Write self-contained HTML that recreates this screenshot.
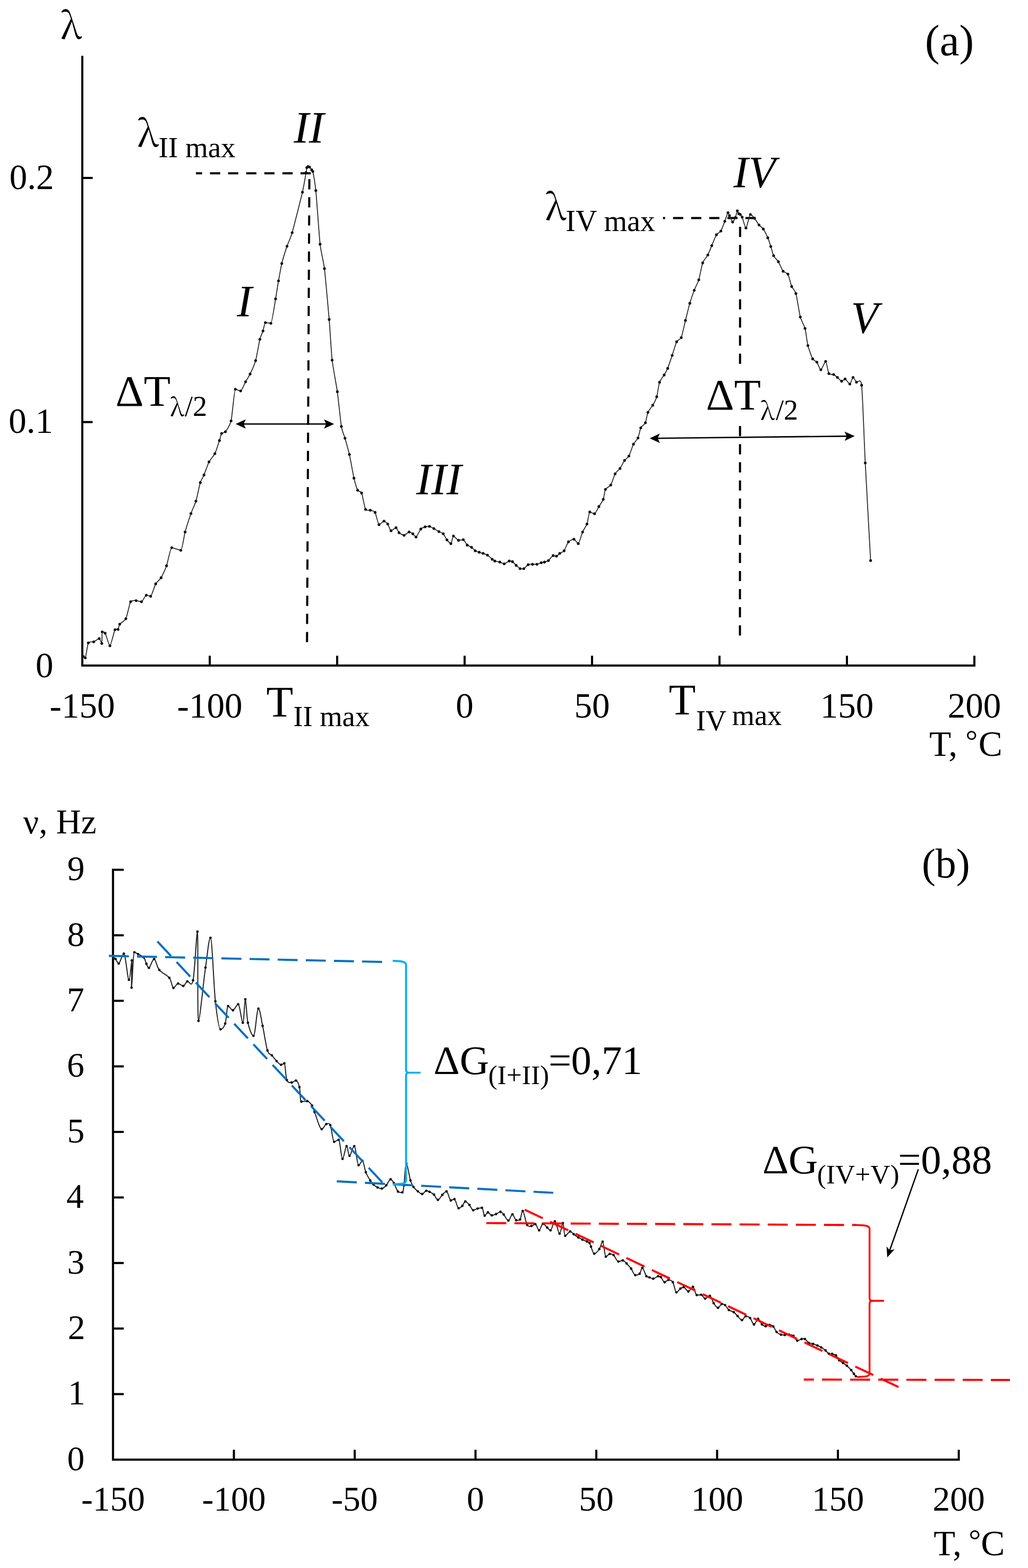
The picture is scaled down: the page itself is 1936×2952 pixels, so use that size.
<!DOCTYPE html>
<html><head><meta charset="utf-8"><title>Internal friction and frequency vs temperature</title>
<style>html,body{margin:0;padding:0;background:#fff}svg{display:block}text{font-family:"Liberation Serif",serif;fill:#000}</style>
</head><body>
<svg width="1936" height="2952" viewBox="0 0 1936 2952">
<rect width="1936" height="2952" fill="#fff"/>
<path d="M155 105 V1253 H1835 V1234.5" fill="none" stroke="#000" stroke-width="4.0" stroke-linejoin="miter"/>
<line x1="155" y1="794.6" x2="174.5" y2="794.6" stroke="#000" stroke-width="4.0" stroke-linecap="butt"/>
<line x1="155" y1="335" x2="174.5" y2="335" stroke="#000" stroke-width="4.0" stroke-linecap="butt"/>
<line x1="395" y1="1253" x2="395" y2="1234.5" stroke="#000" stroke-width="4.0" stroke-linecap="butt"/>
<line x1="635" y1="1253" x2="635" y2="1234.5" stroke="#000" stroke-width="4.0" stroke-linecap="butt"/>
<line x1="875" y1="1253" x2="875" y2="1234.5" stroke="#000" stroke-width="4.0" stroke-linecap="butt"/>
<line x1="1115" y1="1253" x2="1115" y2="1234.5" stroke="#000" stroke-width="4.0" stroke-linecap="butt"/>
<line x1="1355" y1="1253" x2="1355" y2="1234.5" stroke="#000" stroke-width="4.0" stroke-linecap="butt"/>
<line x1="1595" y1="1253" x2="1595" y2="1234.5" stroke="#000" stroke-width="4.0" stroke-linecap="butt"/>
<line x1="585.2" y1="326.3" x2="369" y2="326.3" stroke="#000" stroke-width="4.0" stroke-dasharray="19.2 14.9" stroke-linecap="butt"/>
<line x1="582.6" y1="337.2" x2="578.2" y2="1211.4" stroke="#000" stroke-width="4.0" stroke-dasharray="19.2 14.9" stroke-linecap="butt"/>
<line x1="1423.1" y1="410.5" x2="1248.5" y2="410.5" stroke="#000" stroke-width="4.0" stroke-dasharray="19.2 14.9" stroke-linecap="butt"/>
<line x1="1393.8" y1="427" x2="1393.5" y2="1197.6" stroke="#000" stroke-width="4.0" stroke-dasharray="19.2 14.9" stroke-linecap="butt"/>
<rect x="1325" y="688" width="180" height="113" fill="#fff"/>
<line x1="455" y1="798.2" x2="618" y2="798.2" stroke="#000" stroke-width="2.6" stroke-linecap="butt"/>
<path d="M443.8 798.2 L462.8 789.4 L458.8 798.2 L462.8 807 Z" fill="#000"/>
<path d="M629.2 798.2 L610.2 807 L614.2 798.2 L610.2 789.4 Z" fill="#000"/>
<line x1="1234" y1="825.2" x2="1599" y2="821.1" stroke="#000" stroke-width="2.6" stroke-linecap="butt"/>
<path d="M1223.6 825.3 L1242.5 816.3 L1238.6 825.1 L1242.7 833.9 Z" fill="#000"/>
<path d="M1609.6 821 L1590.7 830 L1594.6 821.2 L1590.5 812.4 Z" fill="#000"/>
<path d="M157 1236 C157.4 1236.2 159.8 1238.5 160.7 1238.5 C161.6 1238.5 164.7 1213.3 166.3 1210.3 C167.9 1207.3 174.4 1209.1 176.5 1208.3 C178.6 1207.5 185.3 1202.2 186.8 1202.2 C188.3 1202.2 191.1 1211.3 191.7 1211.3 C192.3 1211.3 191.9 1189.6 192.5 1189.6 C193.1 1189.6 196.6 1189.4 198 1192 C199.4 1194.6 205.2 1215.7 207 1215.7 C208.8 1215.7 215 1188.6 216.5 1185.5 C218 1182.4 221.4 1186 222.3 1185 C223.2 1184 224 1177 225.5 1175 C227 1173 234.9 1169 237 1164.8 C239.1 1160.6 244.1 1136.2 246 1132.8 C247.9 1129.4 254.2 1130.8 256.3 1130.8 C258.4 1130.8 264.6 1132.8 266.5 1132.8 C268.4 1132.8 273.8 1120.5 275.5 1120.5 C277.2 1120.5 281.9 1122.6 283.7 1122.6 C285.5 1122.6 291.2 1102.7 293.2 1099.2 C295.2 1095.7 301.3 1091.1 303.4 1087.7 C305.4 1084.3 311.7 1070.9 313.7 1065.2 C315.7 1059.5 320.8 1031 323.5 1031 C326.2 1031 338 1036 340.5 1036 C343 1036 346.7 1008.4 348.6 1001.5 C350.5 994.6 357.6 972.6 359.6 966.8 C361.6 961 367.2 949.2 369 943.4 C370.8 937.6 375.7 913.5 377.2 908.6 C378.7 903.7 382.6 898.1 384.2 894.2 C385.8 890.3 391.6 873.6 393.6 869.6 C395.7 865.6 402.7 858 404.7 854 C406.7 850 412 833.1 413.3 829.3 C414.6 825.5 416.3 817.6 417.4 816 C418.5 814.4 422.7 815.2 424.5 812.8 C426.3 810.4 433.3 800.3 435.2 792.3 C437.1 784.3 441.4 732.8 443.2 732.8 C445 732.8 451.3 736 453.2 736 C455.1 736 460.7 722 462.5 718.8 C464.3 715.6 469.1 708.2 471 704.2 C472.9 700.2 479.6 685.4 481.4 678.9 C483.2 672.4 488 644.4 489.4 638.8 C490.8 633.2 494.3 626.1 495.3 623 C496.3 619.9 498.3 607.3 499.8 607.3 C501.3 607.3 508.2 608.7 510.1 608.7 C512 608.7 517.6 570.7 519 562.7 C520.4 554.7 523.3 535.5 524.5 528.8 C525.7 522.1 529.1 502.5 530.7 496 C532.3 489.5 538.5 469.4 540.5 463.6 C542.5 457.8 547.3 448.2 550.2 438 C553.1 427.8 567 373.1 569.6 361.8 C572.2 350.5 575.6 329.4 576.4 324.8 C577.2 320.2 577.4 316.7 577.8 315.6 C578.1 314.5 579.4 313.6 579.9 313.6 C580.4 313.6 582.3 314 583 314.6 C583.7 315.2 586.4 318.9 587 319.7 C587.6 320.5 588.3 318.9 589.1 322.8 C589.9 326.7 593.4 345 594.8 358.7 C596.2 372.4 601.2 445 602.8 459.7 C604.4 474.4 609.3 491.5 611 505.7 C612.7 519.9 618.4 584.2 619.9 601.4 C621.4 618.6 624 664.4 625.5 678 C627 691.6 633.6 724.9 635.3 737.4 C637 749.9 641.5 794 642.9 802.8 C644.3 811.6 648.2 819.7 649.7 825 C651.2 830.3 656.3 848 658 855.5 C659.7 863 665 893.5 666.6 900.2 C668.2 906.9 672.2 920.1 673.6 922.9 C675 925.7 679.5 924.6 681 928.2 C682.5 931.8 686.8 955.8 688.4 959 C690 962.2 695.6 960 697.4 960.6 C699.2 961.2 704.8 962 706.4 964.7 C708 967.4 712.1 987.7 713.8 987.7 C715.5 987.7 721.6 981.1 723.2 981.1 C724.8 981.1 728.9 984.7 730.2 986.5 C731.5 988.3 734.8 999.2 736.4 999.2 C738 999.2 744.3 993.4 745.8 993.4 C747.3 993.4 750 1001.5 751.5 1002.9 C753 1004.3 759.1 1007.8 761 1007.8 C762.9 1007.8 768.8 1001.6 770.4 1001.6 C772 1001.6 776.1 1004 777.4 1004.9 C778.7 1005.8 782 1011 783.5 1011 C785 1011 790.8 997.8 792.5 995.9 C794.2 994 799.1 992.3 800.7 991.8 C802.3 991.3 807.3 991 808.9 991 C810.5 991 815.3 994.1 817.1 995.1 C818.9 996.1 824.8 999.8 826.6 1000.8 C828.4 1001.8 833.3 1003.3 834.8 1004.9 C836.3 1006.5 840.3 1014.5 841.7 1016.4 C843.1 1018.2 847.9 1023.4 849.1 1023.4 C850.3 1023.4 852.6 1009 854 1009 C855.4 1009 861.6 1017.2 863.5 1017.2 C865.4 1017.2 870.9 1016 872.5 1016 C874.1 1016 878.4 1024.8 879.9 1026.2 C881.4 1027.6 886.5 1029.2 888 1030.3 C889.5 1031.4 893.6 1036 895 1036.9 C896.4 1037.8 900.9 1039.2 902.4 1039.7 C903.9 1040.2 908.2 1041.3 909.8 1041.8 C911.4 1042.3 916.3 1044 918 1045.1 C919.7 1046.2 925.6 1051.8 927 1052.9 C928.4 1054 930.5 1055.7 931.9 1056.2 C933.3 1056.7 939.6 1057.7 941.4 1058.2 C943.2 1058.7 947.7 1061.5 949.5 1061.5 C951.3 1061.5 957.4 1056.2 959 1056.2 C960.6 1056.2 963.8 1056.6 965.1 1057.4 C966.4 1058.2 970.7 1063.1 972.1 1064.4 C973.5 1065.7 978.1 1069.9 979.5 1070.5 C980.9 1071.1 985 1071.2 986.5 1070.5 C988 1069.8 993.1 1063.9 994.7 1063.1 C996.3 1062.3 1001.3 1062.4 1002.9 1062.3 C1004.5 1062.2 1009.5 1062.6 1011.1 1062.3 C1012.7 1062 1017.9 1059.8 1019.3 1059.4 C1020.7 1059 1024.1 1058.6 1025.4 1058.2 C1026.8 1057.8 1031.2 1056.5 1032.8 1055.3 C1034.4 1054.1 1040.3 1045.9 1041.8 1045.9 C1043.3 1045.9 1046.8 1047.1 1048 1047.1 C1049.2 1047.1 1052.7 1042.8 1054.1 1041.8 C1055.5 1040.8 1060.7 1039.1 1062.3 1036.9 C1063.9 1034.7 1068.7 1022.3 1070.5 1020.1 C1072.3 1017.9 1079 1015.2 1080.8 1015.2 C1082.6 1015.2 1087.4 1023.4 1089 1023.4 C1090.6 1023.4 1095.6 1005.3 1097.2 1001.6 C1098.8 997.9 1104.1 990.3 1105.4 986.5 C1106.8 982.7 1109.3 963.9 1110.7 963.9 C1112.1 963.9 1118 967.2 1119.7 967.2 C1121.4 967.2 1126.3 956.4 1127.9 953.7 C1129.5 951 1134.9 943.3 1136.1 940.1 C1137.3 936.9 1138.8 924 1140.2 921.3 C1141.6 918.6 1148.5 915.9 1150.3 913 C1152.1 910.1 1156.7 895.2 1158.4 892.1 C1160.1 889 1165.8 884.5 1167.6 882 C1169.4 879.5 1174.5 869.1 1176.2 866.8 C1177.9 864.5 1182.7 861.7 1184.4 858.6 C1186.1 855.5 1191.3 839.6 1193 836.2 C1194.7 832.8 1200.1 827.6 1201.5 824.5 C1202.9 821.4 1205.4 808.3 1206.8 805.4 C1208.2 802.5 1214.2 798.7 1215.5 795.8 C1216.8 792.9 1218.8 779.6 1220.2 776.3 C1221.6 773 1227.6 765.8 1229.3 762.9 C1231 760 1235.5 751.2 1236.8 746.9 C1238.1 742.6 1240.7 723.8 1242.1 719.7 C1243.5 715.6 1249.3 708.5 1250.8 705.9 C1252.3 703.3 1256 697.1 1257.5 693.4 C1259 689.7 1264.2 674 1265.9 669 C1267.6 664 1272.6 646.8 1274.3 643.4 C1276 640 1281.3 639.5 1283 635.5 C1284.7 631.5 1289.3 609.7 1290.9 603.2 C1292.5 596.7 1297.4 576.6 1299.1 570.9 C1300.8 565.2 1305.7 550.9 1307.4 546.5 C1309.1 542.1 1314.4 532 1316 526.8 C1317.6 521.6 1321.6 499.6 1323.3 494.9 C1325 490.2 1331.3 483.3 1333 480 C1334.7 476.7 1338.9 466.1 1340.5 462.3 C1342.1 458.5 1347.5 444.6 1349.2 441.9 C1350.9 439.2 1356 437.5 1357.6 435 C1359.2 432.5 1363.7 420 1365 416.5 C1366.3 413 1370 400.3 1370.9 400.3 C1371.8 400.3 1372.8 404.1 1373.7 405.9 C1374.6 407.7 1378.6 417.9 1379.7 417.9 C1380.8 417.9 1384.1 411.6 1385 409.5 C1385.9 407.4 1388 396.8 1388.6 396.8 C1389.2 396.8 1390.8 401.7 1391.4 402.4 C1392 403.1 1393.6 403.2 1394.2 403.8 C1394.8 404.4 1396.6 406.3 1397.7 408.8 C1398.8 411.3 1403.2 429.2 1404.8 429.2 C1406.3 429.2 1411.6 403.8 1413.2 403.8 C1414.8 403.8 1419.4 408.9 1421 410.9 C1422.6 412.9 1427.8 421.6 1429.4 423.6 C1431.1 425.6 1435.8 428.8 1437.5 431.2 C1439.2 433.6 1444.6 444.4 1446 447.7 C1447.4 451 1450.5 460.6 1451.6 464 C1452.7 467.4 1455.5 478.4 1456.9 481.3 C1458.3 484.2 1464.1 489.8 1465.9 492.7 C1467.7 495.6 1473.1 508.4 1474.9 510.7 C1476.7 513 1482.3 513.2 1483.9 516.1 C1485.5 519 1489.5 535.8 1491 539.4 C1492.5 543 1497.3 546.9 1498.9 552.6 C1500.5 558.3 1505.5 590.2 1507.2 596.8 C1508.9 603.4 1514.7 612.9 1516.1 618.3 C1517.5 623.7 1520.1 644.9 1521.5 650.6 C1522.9 656.3 1528.8 672.6 1530.5 675.7 C1532.2 678.8 1536.9 679.8 1538.4 681.8 C1539.9 683.8 1544.2 696.1 1545.9 696.1 C1547.6 696.1 1553.4 680.4 1554.9 680.4 C1556.4 680.4 1559.5 700.8 1561 703.3 C1562.5 705.8 1568.4 704.4 1570 705.1 C1571.6 705.8 1575.6 709.2 1577.1 710.5 C1578.6 711.8 1583.6 717.7 1585 717.7 C1586.4 717.7 1590 713.4 1591.5 713.4 C1593 713.4 1598.9 723.1 1600.4 723.1 C1601.9 723.1 1605.2 710.5 1606.5 710.5 C1607.8 710.5 1611.4 718 1613 719.5 C1614.6 721 1621 710 1622.7 725.2 C1624.4 740.4 1627.8 838.5 1629.5 871.5 C1631.2 904.5 1638.6 1036.9 1639.6 1055.3" fill="none" stroke="#2a2a2a" stroke-width="1.75" stroke-linejoin="round"/>
<g fill="#111"><circle cx="157" cy="1236" r="2.6"/><circle cx="160.7" cy="1238.5" r="2.6"/><circle cx="166.3" cy="1210.3" r="2.6"/><circle cx="176.5" cy="1208.3" r="2.6"/><circle cx="186.8" cy="1202.2" r="2.6"/><circle cx="191.7" cy="1211.3" r="2.6"/><circle cx="192.5" cy="1189.6" r="2.6"/><circle cx="198" cy="1192" r="2.6"/><circle cx="207" cy="1215.7" r="2.6"/><circle cx="216.5" cy="1185.5" r="2.6"/><circle cx="222.3" cy="1185" r="2.6"/><circle cx="225.5" cy="1175" r="2.6"/><circle cx="237" cy="1164.8" r="2.6"/><circle cx="246" cy="1132.8" r="2.6"/><circle cx="256.3" cy="1130.8" r="2.6"/><circle cx="266.5" cy="1132.8" r="2.6"/><circle cx="275.5" cy="1120.5" r="2.6"/><circle cx="283.7" cy="1122.6" r="2.6"/><circle cx="293.2" cy="1099.2" r="2.6"/><circle cx="303.4" cy="1087.7" r="2.6"/><circle cx="313.7" cy="1065.2" r="2.6"/><circle cx="323.5" cy="1031" r="2.6"/><circle cx="340.5" cy="1036" r="2.6"/><circle cx="348.6" cy="1001.5" r="2.6"/><circle cx="359.6" cy="966.8" r="2.6"/><circle cx="369" cy="943.4" r="2.6"/><circle cx="377.2" cy="908.6" r="2.6"/><circle cx="384.2" cy="894.2" r="2.6"/><circle cx="393.6" cy="869.6" r="2.6"/><circle cx="404.7" cy="854" r="2.6"/><circle cx="413.3" cy="829.3" r="2.6"/><circle cx="417.4" cy="816" r="2.6"/><circle cx="424.5" cy="812.8" r="2.6"/><circle cx="435.2" cy="792.3" r="2.6"/><circle cx="443.2" cy="732.8" r="2.6"/><circle cx="453.2" cy="736" r="2.6"/><circle cx="462.5" cy="718.8" r="2.6"/><circle cx="471" cy="704.2" r="2.6"/><circle cx="481.4" cy="678.9" r="2.6"/><circle cx="489.4" cy="638.8" r="2.6"/><circle cx="495.3" cy="623" r="2.6"/><circle cx="499.8" cy="607.3" r="2.6"/><circle cx="510.1" cy="608.7" r="2.6"/><circle cx="519" cy="562.7" r="2.6"/><circle cx="524.5" cy="528.8" r="2.6"/><circle cx="530.7" cy="496" r="2.6"/><circle cx="540.5" cy="463.6" r="2.6"/><circle cx="550.2" cy="438" r="2.6"/><circle cx="569.6" cy="361.8" r="2.6"/><circle cx="576.4" cy="324.8" r="2.6"/><circle cx="577.8" cy="315.6" r="2.6"/><circle cx="579.9" cy="313.6" r="2.6"/><circle cx="583" cy="314.6" r="2.6"/><circle cx="587" cy="319.7" r="2.6"/><circle cx="589.1" cy="322.8" r="2.6"/><circle cx="594.8" cy="358.7" r="2.6"/><circle cx="602.8" cy="459.7" r="2.6"/><circle cx="611" cy="505.7" r="2.6"/><circle cx="619.9" cy="601.4" r="2.6"/><circle cx="625.5" cy="678" r="2.6"/><circle cx="635.3" cy="737.4" r="2.6"/><circle cx="642.9" cy="802.8" r="2.6"/><circle cx="649.7" cy="825" r="2.6"/><circle cx="658" cy="855.5" r="2.6"/><circle cx="666.6" cy="900.2" r="2.6"/><circle cx="673.6" cy="922.9" r="2.6"/><circle cx="681" cy="928.2" r="2.6"/><circle cx="688.4" cy="959" r="2.6"/><circle cx="697.4" cy="960.6" r="2.6"/><circle cx="706.4" cy="964.7" r="2.6"/><circle cx="713.8" cy="987.7" r="2.6"/><circle cx="723.2" cy="981.1" r="2.6"/><circle cx="730.2" cy="986.5" r="2.6"/><circle cx="736.4" cy="999.2" r="2.6"/><circle cx="745.8" cy="993.4" r="2.6"/><circle cx="751.5" cy="1002.9" r="2.6"/><circle cx="761" cy="1007.8" r="2.6"/><circle cx="770.4" cy="1001.6" r="2.6"/><circle cx="777.4" cy="1004.9" r="2.6"/><circle cx="783.5" cy="1011" r="2.6"/><circle cx="792.5" cy="995.9" r="2.6"/><circle cx="800.7" cy="991.8" r="2.6"/><circle cx="808.9" cy="991" r="2.6"/><circle cx="817.1" cy="995.1" r="2.6"/><circle cx="826.6" cy="1000.8" r="2.6"/><circle cx="834.8" cy="1004.9" r="2.6"/><circle cx="841.7" cy="1016.4" r="2.6"/><circle cx="849.1" cy="1023.4" r="2.6"/><circle cx="854" cy="1009" r="2.6"/><circle cx="863.5" cy="1017.2" r="2.6"/><circle cx="872.5" cy="1016" r="2.6"/><circle cx="879.9" cy="1026.2" r="2.6"/><circle cx="888" cy="1030.3" r="2.6"/><circle cx="895" cy="1036.9" r="2.6"/><circle cx="902.4" cy="1039.7" r="2.6"/><circle cx="909.8" cy="1041.8" r="2.6"/><circle cx="918" cy="1045.1" r="2.6"/><circle cx="927" cy="1052.9" r="2.6"/><circle cx="931.9" cy="1056.2" r="2.6"/><circle cx="941.4" cy="1058.2" r="2.6"/><circle cx="949.5" cy="1061.5" r="2.6"/><circle cx="959" cy="1056.2" r="2.6"/><circle cx="965.1" cy="1057.4" r="2.6"/><circle cx="972.1" cy="1064.4" r="2.6"/><circle cx="979.5" cy="1070.5" r="2.6"/><circle cx="986.5" cy="1070.5" r="2.6"/><circle cx="994.7" cy="1063.1" r="2.6"/><circle cx="1002.9" cy="1062.3" r="2.6"/><circle cx="1011.1" cy="1062.3" r="2.6"/><circle cx="1019.3" cy="1059.4" r="2.6"/><circle cx="1025.4" cy="1058.2" r="2.6"/><circle cx="1032.8" cy="1055.3" r="2.6"/><circle cx="1041.8" cy="1045.9" r="2.6"/><circle cx="1048" cy="1047.1" r="2.6"/><circle cx="1054.1" cy="1041.8" r="2.6"/><circle cx="1062.3" cy="1036.9" r="2.6"/><circle cx="1070.5" cy="1020.1" r="2.6"/><circle cx="1080.8" cy="1015.2" r="2.6"/><circle cx="1089" cy="1023.4" r="2.6"/><circle cx="1097.2" cy="1001.6" r="2.6"/><circle cx="1105.4" cy="986.5" r="2.6"/><circle cx="1110.7" cy="963.9" r="2.6"/><circle cx="1119.7" cy="967.2" r="2.6"/><circle cx="1127.9" cy="953.7" r="2.6"/><circle cx="1136.1" cy="940.1" r="2.6"/><circle cx="1140.2" cy="921.3" r="2.6"/><circle cx="1150.3" cy="913" r="2.6"/><circle cx="1158.4" cy="892.1" r="2.6"/><circle cx="1167.6" cy="882" r="2.6"/><circle cx="1176.2" cy="866.8" r="2.6"/><circle cx="1184.4" cy="858.6" r="2.6"/><circle cx="1193" cy="836.2" r="2.6"/><circle cx="1201.5" cy="824.5" r="2.6"/><circle cx="1206.8" cy="805.4" r="2.6"/><circle cx="1215.5" cy="795.8" r="2.6"/><circle cx="1220.2" cy="776.3" r="2.6"/><circle cx="1229.3" cy="762.9" r="2.6"/><circle cx="1236.8" cy="746.9" r="2.6"/><circle cx="1242.1" cy="719.7" r="2.6"/><circle cx="1250.8" cy="705.9" r="2.6"/><circle cx="1257.5" cy="693.4" r="2.6"/><circle cx="1265.9" cy="669" r="2.6"/><circle cx="1274.3" cy="643.4" r="2.6"/><circle cx="1283" cy="635.5" r="2.6"/><circle cx="1290.9" cy="603.2" r="2.6"/><circle cx="1299.1" cy="570.9" r="2.6"/><circle cx="1307.4" cy="546.5" r="2.6"/><circle cx="1316" cy="526.8" r="2.6"/><circle cx="1323.3" cy="494.9" r="2.6"/><circle cx="1333" cy="480" r="2.6"/><circle cx="1340.5" cy="462.3" r="2.6"/><circle cx="1349.2" cy="441.9" r="2.6"/><circle cx="1357.6" cy="435" r="2.6"/><circle cx="1365" cy="416.5" r="2.6"/><circle cx="1370.9" cy="400.3" r="2.6"/><circle cx="1373.7" cy="405.9" r="2.6"/><circle cx="1379.7" cy="417.9" r="2.6"/><circle cx="1385" cy="409.5" r="2.6"/><circle cx="1388.6" cy="396.8" r="2.6"/><circle cx="1391.4" cy="402.4" r="2.6"/><circle cx="1394.2" cy="403.8" r="2.6"/><circle cx="1397.7" cy="408.8" r="2.6"/><circle cx="1404.8" cy="429.2" r="2.6"/><circle cx="1413.2" cy="403.8" r="2.6"/><circle cx="1421" cy="410.9" r="2.6"/><circle cx="1429.4" cy="423.6" r="2.6"/><circle cx="1437.5" cy="431.2" r="2.6"/><circle cx="1446" cy="447.7" r="2.6"/><circle cx="1451.6" cy="464" r="2.6"/><circle cx="1456.9" cy="481.3" r="2.6"/><circle cx="1465.9" cy="492.7" r="2.6"/><circle cx="1474.9" cy="510.7" r="2.6"/><circle cx="1483.9" cy="516.1" r="2.6"/><circle cx="1491" cy="539.4" r="2.6"/><circle cx="1498.9" cy="552.6" r="2.6"/><circle cx="1507.2" cy="596.8" r="2.6"/><circle cx="1516.1" cy="618.3" r="2.6"/><circle cx="1521.5" cy="650.6" r="2.6"/><circle cx="1530.5" cy="675.7" r="2.6"/><circle cx="1538.4" cy="681.8" r="2.6"/><circle cx="1545.9" cy="696.1" r="2.6"/><circle cx="1554.9" cy="680.4" r="2.6"/><circle cx="1561" cy="703.3" r="2.6"/><circle cx="1570" cy="705.1" r="2.6"/><circle cx="1577.1" cy="710.5" r="2.6"/><circle cx="1585" cy="717.7" r="2.6"/><circle cx="1591.5" cy="713.4" r="2.6"/><circle cx="1600.4" cy="723.1" r="2.6"/><circle cx="1606.5" cy="710.5" r="2.6"/><circle cx="1613" cy="719.5" r="2.6"/><circle cx="1622.7" cy="725.2" r="2.6"/><circle cx="1629.5" cy="871.5" r="2.6"/><circle cx="1639.6" cy="1055.3" r="2.6"/></g>
<path d="M233 1637.4 H212.8 V2748 H1805.6 V2729.4" fill="none" stroke="#000" stroke-width="4.0"/>
<line x1="212.8" y1="2624.6" x2="233" y2="2624.6" stroke="#000" stroke-width="4.0" stroke-linecap="butt"/>
<line x1="212.8" y1="2501.2" x2="233" y2="2501.2" stroke="#000" stroke-width="4.0" stroke-linecap="butt"/>
<line x1="212.8" y1="2377.8" x2="233" y2="2377.8" stroke="#000" stroke-width="4.0" stroke-linecap="butt"/>
<line x1="212.8" y1="2254.4" x2="233" y2="2254.4" stroke="#000" stroke-width="4.0" stroke-linecap="butt"/>
<line x1="212.8" y1="2131" x2="233" y2="2131" stroke="#000" stroke-width="4.0" stroke-linecap="butt"/>
<line x1="212.8" y1="2007.6" x2="233" y2="2007.6" stroke="#000" stroke-width="4.0" stroke-linecap="butt"/>
<line x1="212.8" y1="1884.2" x2="233" y2="1884.2" stroke="#000" stroke-width="4.0" stroke-linecap="butt"/>
<line x1="212.8" y1="1760.8" x2="233" y2="1760.8" stroke="#000" stroke-width="4.0" stroke-linecap="butt"/>
<line x1="440.5" y1="2748" x2="440.5" y2="2729.4" stroke="#000" stroke-width="4.0" stroke-linecap="butt"/>
<line x1="668" y1="2748" x2="668" y2="2729.4" stroke="#000" stroke-width="4.0" stroke-linecap="butt"/>
<line x1="895.5" y1="2748" x2="895.5" y2="2729.4" stroke="#000" stroke-width="4.0" stroke-linecap="butt"/>
<line x1="1123" y1="2748" x2="1123" y2="2729.4" stroke="#000" stroke-width="4.0" stroke-linecap="butt"/>
<line x1="1350.5" y1="2748" x2="1350.5" y2="2729.4" stroke="#000" stroke-width="4.0" stroke-linecap="butt"/>
<line x1="1578" y1="2748" x2="1578" y2="2729.4" stroke="#000" stroke-width="4.0" stroke-linecap="butt"/>
<path d="M214.6 1804.3 C215.1 1804.5 216.3 1804 217.8 1805.6 C219.3 1807.2 221 1814 223.6 1814 C226.2 1814 230 1795.4 233.2 1795.4 C236.4 1795.4 240.3 1844.7 242.8 1844.7 C245.3 1844.7 247.4 1808.2 248.2 1808.2 C249 1808.2 247 1859.4 247.8 1859.4 C248.6 1859.4 250.9 1792.8 253 1792.8 C255.1 1792.8 257.2 1794.7 260.1 1796.3 C263.1 1797.9 268.1 1799.5 270.7 1802.5 C273.3 1805.5 274.1 1811.1 275.7 1814.4 C277.3 1817.7 278 1822.2 280.4 1822.2 C282.8 1822.2 286.9 1805.6 290.2 1805.6 C293.5 1805.6 295.2 1820.2 300 1826.1 C304.8 1832 314.4 1835.3 318.9 1840.9 C323.3 1846.5 324 1859.9 326.7 1859.9 C329.4 1859.9 332.2 1851.7 335.3 1851.7 C338.4 1851.7 342.2 1856.2 345.1 1856.2 C348 1856.2 349.6 1849.4 352.7 1847.6 C355.8 1845.8 360.4 1861.2 363.6 1845.6 C366.8 1830 370.1 1753.9 371.8 1753.9 C373.5 1753.9 371.3 1922 373.8 1922 C376.3 1922 383.2 1847.7 387 1821.6 C390.8 1795.5 393.3 1765.6 396.4 1765.6 C399.5 1765.6 402.5 1856.4 405.6 1885.1 C408.8 1913.8 412.2 1937.8 415.3 1937.8 C418.4 1937.8 421.7 1934.3 424.1 1927 C426.5 1919.7 427.2 1894.2 429.6 1894.2 C432.1 1894.2 435.7 1902 438.8 1902 C441.9 1902 445.4 1890.7 448.5 1890.7 C451.6 1890.7 455.1 1925.5 457.3 1925.5 C459.6 1925.5 460.4 1881.5 462 1881.5 C463.6 1881.5 464.3 1914.1 466.9 1925.5 C469.5 1936.9 474.1 1950.1 477.4 1950.1 C480.7 1950.1 483.7 1898.9 486.6 1898.9 C489.5 1898.9 491.8 1918.2 494.6 1931.3 C497.5 1944.4 500.8 1968.5 503.7 1977.7 C506.6 1987 509.1 1983.5 512 1986.8 C514.9 1990.1 518.1 1994.8 521 1997.8 C523.9 2000.8 526.9 2004.7 529.3 2004.7 C531.7 2004.7 533.7 2001.9 535.5 2001.9 C537.3 2001.9 537.9 2027.4 540.2 2033.4 C542.5 2039.4 546.4 2038 549.3 2038 C552.1 2038 554.9 2034.3 557.3 2034.3 C559.7 2034.3 562.2 2040.1 563.9 2046.7 C565.6 2053.3 565.1 2074 567.5 2074 C569.9 2074 575.1 2073 578.5 2073 C581.9 2073 585.4 2077.9 587.7 2081.3 C590 2084.7 589.3 2085.9 592.3 2093.3 C595.3 2100.7 602.1 2125.8 605.8 2125.8 C609.5 2125.8 611.8 2116.2 614.5 2116.2 C617.2 2116.2 619.5 2112.6 622 2118.2 C624.5 2123.8 626.7 2149.7 629.3 2149.7 C631.9 2149.7 635.1 2145.8 637.7 2145.8 C640.3 2145.8 642.6 2181.8 645.1 2181.8 C647.6 2181.8 650.5 2157.8 652.7 2157.8 C654.9 2157.8 655.9 2175.9 658.3 2175.9 C660.7 2175.9 664.3 2157.8 667.1 2157.8 C669.9 2157.8 672.7 2193.7 675.3 2193.7 C677.9 2193.7 680.2 2185.5 682.5 2185.5 C684.8 2185.5 686.5 2200.8 689 2207 C691.5 2213.2 694.8 2218.6 697.2 2222.4 C699.6 2226.2 701 2227.8 703.3 2230 C705.6 2232.2 708.4 2234.3 711 2235.6 C713.6 2236.9 716.5 2237.7 719.2 2237.7 C721.9 2237.7 724.7 2234.4 727.4 2231.5 C730.1 2228.6 733.2 2220.2 735.6 2220.2 C738 2220.2 739.5 2223.6 741.8 2227.4 C744.1 2231.2 746.9 2240.4 749.5 2243.3 C752.1 2246.2 755.8 2244.8 757.7 2244.8 C759.6 2244.8 759.4 2240.6 760.7 2231.5 C762 2222.4 763.2 2190.5 765.3 2190.5 C767.3 2190.5 770.8 2215 773 2222.3 C775.2 2229.7 776.4 2231.2 778.7 2234.6 C781 2238 784.2 2240.6 786.9 2242.8 C789.6 2245 792.5 2247.9 795.1 2247.9 C797.8 2247.9 800.5 2241.8 802.8 2241.8 C805.1 2241.8 806.5 2242.6 808.9 2243.8 C811.3 2245 814.6 2246.5 817.2 2249 C819.8 2251.5 822.1 2259 824.7 2259 C827.3 2259 830.3 2252.2 833 2249.5 C835.7 2246.8 838.3 2243 841 2243 C843.7 2243 846.5 2260 849 2260 C851.5 2260 853.4 2257.5 855.8 2257.5 C858.2 2257.5 861.1 2274.7 863.6 2274.7 C866.1 2274.7 868.6 2272.3 870.7 2270.2 C872.8 2268.1 874.1 2262 876.3 2262 C878.5 2262 881.6 2265.9 884.1 2268.6 C886.6 2271.3 888.7 2278.4 891.2 2278.4 C893.8 2278.4 896.7 2276.1 899.4 2275.3 C902.1 2274.6 905.4 2273.9 907.6 2273.9 C909.8 2273.9 910.9 2288.7 912.8 2288.7 C914.7 2288.7 916.7 2282.5 918.9 2282.5 C921.1 2282.5 923.5 2288.2 926.1 2288.2 C928.7 2288.2 931.6 2286.7 934.3 2285.6 C937 2284.5 940.1 2281.5 942.5 2281.5 C944.9 2281.5 946.1 2283.9 948.6 2286.6 C951.1 2289.3 954.7 2297.9 957.4 2297.9 C960.1 2297.9 962.5 2286.2 965 2286.2 C967.5 2286.2 969.8 2297.3 972.2 2297.3 C974.6 2297.3 977.4 2298.7 979.4 2295.8 C981.4 2292.9 982.3 2280 984.5 2280 C986.7 2280 990 2301.4 992.7 2306.1 C995.4 2310.8 998.3 2308.1 1000.9 2308.1 C1003.5 2308.1 1005.7 2304.6 1008.1 2304.6 C1010.5 2304.6 1012.9 2316.3 1015.3 2316.3 C1017.7 2316.3 1019.9 2304 1022.4 2304 C1025 2304 1028.2 2309.1 1030.6 2311.2 C1033 2313.2 1034.4 2316.3 1036.8 2316.3 C1039.2 2316.3 1042.2 2299.3 1045 2299.3 C1047.8 2299.3 1051.3 2322.5 1053.8 2322.5 C1056.3 2322.5 1058.2 2302.6 1060 2302.6 C1061.8 2302.6 1062.2 2326.6 1064.5 2326.6 C1066.8 2326.6 1071 2318.4 1073.7 2318.4 C1076.4 2318.4 1077.8 2321.6 1080.4 2323.5 C1083 2325.4 1086.4 2328 1089.1 2329.7 C1091.8 2331.4 1094.1 2332.5 1096.8 2333.8 C1099.5 2335.1 1103.2 2336.3 1105.5 2337.4 C1107.8 2338.5 1109 2338.6 1110.3 2340.2 C1111.5 2341.8 1111.5 2343.7 1113 2347 C1114.5 2350.3 1116.6 2360.3 1119.2 2360.3 C1121.8 2360.3 1126.1 2355.3 1128.7 2351.5 C1131.3 2347.7 1132.9 2337.7 1134.9 2337.7 C1137 2337.7 1138.8 2365.8 1141 2365.8 C1143.2 2365.8 1145.8 2360.7 1148.2 2360.7 C1150.6 2360.7 1152.7 2360.4 1155.4 2362.8 C1158.1 2365.2 1161.7 2375.1 1164.6 2375.1 C1167.5 2375.1 1170.2 2373 1172.8 2373 C1175.4 2373 1177.4 2376.1 1180 2378.7 C1182.6 2381.3 1185.9 2384.7 1188.6 2388.4 C1191.3 2392.1 1193.7 2400.7 1196.4 2400.7 C1199.1 2400.7 1202.4 2400.3 1204.6 2398 C1206.8 2395.7 1207.6 2386.9 1209.7 2386.9 C1211.8 2386.9 1215.1 2399.7 1217.3 2402.7 C1219.5 2405.7 1220.8 2404 1223 2404.8 C1225.2 2405.6 1227.5 2407.4 1230.2 2407.4 C1232.9 2407.4 1237 2402.7 1239.4 2402.7 C1241.8 2402.7 1242.5 2402.3 1244.5 2404.2 C1246.5 2406.1 1249.3 2414 1251.7 2414 C1254.1 2414 1256.3 2409.5 1258.9 2409.5 C1261.5 2409.5 1264.6 2410.1 1267.1 2414 C1269.6 2417.9 1271.4 2433.1 1273.8 2433.1 C1276.2 2433.1 1279.1 2427.6 1281.4 2425.9 C1283.7 2424.2 1285.1 2423.2 1287.6 2423.2 C1290.1 2423.2 1293.5 2431.4 1296.4 2431.4 C1299.3 2431.4 1302.4 2422.6 1305 2422.6 C1307.6 2422.6 1309.6 2438.2 1312.2 2438.2 C1314.8 2438.2 1317.8 2437.6 1320.4 2437.6 C1323 2437.6 1325.3 2444.8 1328 2444.8 C1330.7 2444.8 1334.1 2439.6 1336.8 2439.6 C1339.5 2439.6 1341.4 2449.6 1344 2453.4 C1346.6 2457.2 1349.7 2462.2 1352.2 2462.2 C1354.8 2462.2 1357.1 2455 1359.3 2455 C1361.5 2455 1363.3 2455.2 1365.5 2457.1 C1367.7 2459 1370 2464.1 1372.7 2466.3 C1375.4 2468.5 1379.2 2468.5 1381.9 2470.4 C1384.6 2472.3 1386.5 2475.1 1389.1 2477.6 C1391.7 2480.1 1394.8 2485.3 1397.3 2485.3 C1399.8 2485.3 1401.8 2478 1404.3 2478 C1406.8 2478 1409.9 2478.7 1412.5 2481.3 C1415.1 2483.9 1417.5 2493.5 1420 2493.5 C1422.5 2493.5 1425.2 2483 1427.7 2483 C1430.2 2483 1432.5 2491 1434.9 2493.3 C1437.3 2495.6 1439.6 2496.9 1442 2496.9 C1444.4 2496.9 1446.8 2494.3 1449.2 2494.3 C1451.6 2494.3 1454.2 2495.2 1456.4 2497.4 C1458.6 2499.6 1460.1 2505.1 1462.5 2507.6 C1464.9 2510.1 1468.1 2511.8 1470.7 2512.7 C1473.3 2513.6 1475.3 2513.3 1477.9 2513.3 C1480.5 2513.3 1483.4 2512.7 1486.1 2512.7 C1488.8 2512.7 1491.7 2512.9 1494.3 2514.8 C1496.9 2516.7 1498.9 2524 1501.5 2524 C1504.1 2524 1507.3 2521.4 1509.7 2520.9 C1512.1 2520.4 1513.6 2519.7 1515.8 2520.9 C1518 2522.1 1520.4 2526.6 1523 2528.1 C1525.6 2529.6 1528.5 2529.3 1531.2 2530.2 C1533.9 2531 1536.8 2532.1 1539.4 2533.2 C1542 2534.3 1544 2535.1 1546.6 2536.7 C1549.2 2538.2 1552.4 2540.5 1554.8 2542.5 C1557.2 2544.5 1558.9 2547.5 1560.9 2548.6 C1563 2549.7 1564.9 2548.5 1567.1 2549 C1569.3 2549.5 1572.1 2549.7 1574.3 2551.7 C1576.5 2553.7 1578.2 2558.5 1580.4 2560.9 C1582.6 2563.3 1585.2 2564.3 1587.6 2566 C1590 2567.7 1592.2 2569 1594.8 2571.2 C1597.4 2573.4 1600.8 2576.8 1603 2579.4 C1605.2 2582 1606.6 2584.5 1608.1 2586.5 C1609.6 2588.5 1611.2 2590.4 1611.8 2591.2" fill="none" stroke="#222" stroke-width="2" stroke-linejoin="round"/>
<g fill="#111"><circle cx="214.6" cy="1804.3" r="2.4"/><circle cx="217.8" cy="1805.6" r="2.4"/><circle cx="223.6" cy="1814" r="2.4"/><circle cx="233.2" cy="1795.4" r="2.4"/><circle cx="242.8" cy="1844.7" r="2.4"/><circle cx="248.2" cy="1808.2" r="2.4"/><circle cx="247.8" cy="1859.4" r="2.4"/><circle cx="253" cy="1792.8" r="2.4"/><circle cx="260.1" cy="1796.3" r="2.4"/><circle cx="270.7" cy="1802.5" r="2.4"/><circle cx="275.7" cy="1814.4" r="2.4"/><circle cx="280.4" cy="1822.2" r="2.4"/><circle cx="290.2" cy="1805.6" r="2.4"/><circle cx="300" cy="1826.1" r="2.4"/><circle cx="318.9" cy="1840.9" r="2.4"/><circle cx="326.7" cy="1859.9" r="2.4"/><circle cx="335.3" cy="1851.7" r="2.4"/><circle cx="345.1" cy="1856.2" r="2.4"/><circle cx="352.7" cy="1847.6" r="2.4"/><circle cx="363.6" cy="1845.6" r="2.4"/><circle cx="371.8" cy="1753.9" r="2.4"/><circle cx="373.8" cy="1922" r="2.4"/><circle cx="387" cy="1821.6" r="2.4"/><circle cx="396.4" cy="1765.6" r="2.4"/><circle cx="405.6" cy="1885.1" r="2.4"/><circle cx="415.3" cy="1937.8" r="2.4"/><circle cx="424.1" cy="1927" r="2.4"/><circle cx="429.6" cy="1894.2" r="2.4"/><circle cx="438.8" cy="1902" r="2.4"/><circle cx="448.5" cy="1890.7" r="2.4"/><circle cx="457.3" cy="1925.5" r="2.4"/><circle cx="462" cy="1881.5" r="2.4"/><circle cx="466.9" cy="1925.5" r="2.4"/><circle cx="477.4" cy="1950.1" r="2.4"/><circle cx="486.6" cy="1898.9" r="2.4"/><circle cx="494.6" cy="1931.3" r="2.4"/><circle cx="503.7" cy="1977.7" r="2.4"/><circle cx="512" cy="1986.8" r="2.4"/><circle cx="521" cy="1997.8" r="2.4"/><circle cx="529.3" cy="2004.7" r="2.4"/><circle cx="535.5" cy="2001.9" r="2.4"/><circle cx="540.2" cy="2033.4" r="2.4"/><circle cx="549.3" cy="2038" r="2.4"/><circle cx="557.3" cy="2034.3" r="2.4"/><circle cx="563.9" cy="2046.7" r="2.4"/><circle cx="567.5" cy="2074" r="2.4"/><circle cx="578.5" cy="2073" r="2.4"/><circle cx="587.7" cy="2081.3" r="2.4"/><circle cx="592.3" cy="2093.3" r="2.4"/><circle cx="605.8" cy="2125.8" r="2.4"/><circle cx="614.5" cy="2116.2" r="2.4"/><circle cx="622" cy="2118.2" r="2.4"/><circle cx="629.3" cy="2149.7" r="2.4"/><circle cx="637.7" cy="2145.8" r="2.4"/><circle cx="645.1" cy="2181.8" r="2.4"/><circle cx="652.7" cy="2157.8" r="2.4"/><circle cx="658.3" cy="2175.9" r="2.4"/><circle cx="667.1" cy="2157.8" r="2.4"/><circle cx="675.3" cy="2193.7" r="2.4"/><circle cx="682.5" cy="2185.5" r="2.4"/><circle cx="689" cy="2207" r="2.4"/><circle cx="697.2" cy="2222.4" r="2.4"/><circle cx="703.3" cy="2230" r="2.4"/><circle cx="711" cy="2235.6" r="2.4"/><circle cx="719.2" cy="2237.7" r="2.4"/><circle cx="727.4" cy="2231.5" r="2.4"/><circle cx="735.6" cy="2220.2" r="2.4"/><circle cx="741.8" cy="2227.4" r="2.4"/><circle cx="749.5" cy="2243.3" r="2.4"/><circle cx="757.7" cy="2244.8" r="2.4"/><circle cx="760.7" cy="2231.5" r="2.4"/><circle cx="765.3" cy="2190.5" r="2.4"/><circle cx="773" cy="2222.3" r="2.4"/><circle cx="778.7" cy="2234.6" r="2.4"/><circle cx="786.9" cy="2242.8" r="2.4"/><circle cx="795.1" cy="2247.9" r="2.4"/><circle cx="802.8" cy="2241.8" r="2.4"/><circle cx="808.9" cy="2243.8" r="2.4"/><circle cx="817.2" cy="2249" r="2.4"/><circle cx="824.7" cy="2259" r="2.4"/><circle cx="833" cy="2249.5" r="2.4"/><circle cx="841" cy="2243" r="2.4"/><circle cx="849" cy="2260" r="2.4"/><circle cx="855.8" cy="2257.5" r="2.4"/><circle cx="863.6" cy="2274.7" r="2.4"/><circle cx="870.7" cy="2270.2" r="2.4"/><circle cx="876.3" cy="2262" r="2.4"/><circle cx="884.1" cy="2268.6" r="2.4"/><circle cx="891.2" cy="2278.4" r="2.4"/><circle cx="899.4" cy="2275.3" r="2.4"/><circle cx="907.6" cy="2273.9" r="2.4"/><circle cx="912.8" cy="2288.7" r="2.4"/><circle cx="918.9" cy="2282.5" r="2.4"/><circle cx="926.1" cy="2288.2" r="2.4"/><circle cx="934.3" cy="2285.6" r="2.4"/><circle cx="942.5" cy="2281.5" r="2.4"/><circle cx="948.6" cy="2286.6" r="2.4"/><circle cx="957.4" cy="2297.9" r="2.4"/><circle cx="965" cy="2286.2" r="2.4"/><circle cx="972.2" cy="2297.3" r="2.4"/><circle cx="979.4" cy="2295.8" r="2.4"/><circle cx="984.5" cy="2280" r="2.4"/><circle cx="992.7" cy="2306.1" r="2.4"/><circle cx="1000.9" cy="2308.1" r="2.4"/><circle cx="1008.1" cy="2304.6" r="2.4"/><circle cx="1015.3" cy="2316.3" r="2.4"/><circle cx="1022.4" cy="2304" r="2.4"/><circle cx="1030.6" cy="2311.2" r="2.4"/><circle cx="1036.8" cy="2316.3" r="2.4"/><circle cx="1045" cy="2299.3" r="2.4"/><circle cx="1053.8" cy="2322.5" r="2.4"/><circle cx="1060" cy="2302.6" r="2.4"/><circle cx="1064.5" cy="2326.6" r="2.4"/><circle cx="1073.7" cy="2318.4" r="2.4"/><circle cx="1080.4" cy="2323.5" r="2.4"/><circle cx="1089.1" cy="2329.7" r="2.4"/><circle cx="1096.8" cy="2333.8" r="2.4"/><circle cx="1105.5" cy="2337.4" r="2.4"/><circle cx="1110.3" cy="2340.2" r="2.4"/><circle cx="1113" cy="2347" r="2.4"/><circle cx="1119.2" cy="2360.3" r="2.4"/><circle cx="1128.7" cy="2351.5" r="2.4"/><circle cx="1134.9" cy="2337.7" r="2.4"/><circle cx="1141" cy="2365.8" r="2.4"/><circle cx="1148.2" cy="2360.7" r="2.4"/><circle cx="1155.4" cy="2362.8" r="2.4"/><circle cx="1164.6" cy="2375.1" r="2.4"/><circle cx="1172.8" cy="2373" r="2.4"/><circle cx="1180" cy="2378.7" r="2.4"/><circle cx="1188.6" cy="2388.4" r="2.4"/><circle cx="1196.4" cy="2400.7" r="2.4"/><circle cx="1204.6" cy="2398" r="2.4"/><circle cx="1209.7" cy="2386.9" r="2.4"/><circle cx="1217.3" cy="2402.7" r="2.4"/><circle cx="1223" cy="2404.8" r="2.4"/><circle cx="1230.2" cy="2407.4" r="2.4"/><circle cx="1239.4" cy="2402.7" r="2.4"/><circle cx="1244.5" cy="2404.2" r="2.4"/><circle cx="1251.7" cy="2414" r="2.4"/><circle cx="1258.9" cy="2409.5" r="2.4"/><circle cx="1267.1" cy="2414" r="2.4"/><circle cx="1273.8" cy="2433.1" r="2.4"/><circle cx="1281.4" cy="2425.9" r="2.4"/><circle cx="1287.6" cy="2423.2" r="2.4"/><circle cx="1296.4" cy="2431.4" r="2.4"/><circle cx="1305" cy="2422.6" r="2.4"/><circle cx="1312.2" cy="2438.2" r="2.4"/><circle cx="1320.4" cy="2437.6" r="2.4"/><circle cx="1328" cy="2444.8" r="2.4"/><circle cx="1336.8" cy="2439.6" r="2.4"/><circle cx="1344" cy="2453.4" r="2.4"/><circle cx="1352.2" cy="2462.2" r="2.4"/><circle cx="1359.3" cy="2455" r="2.4"/><circle cx="1365.5" cy="2457.1" r="2.4"/><circle cx="1372.7" cy="2466.3" r="2.4"/><circle cx="1381.9" cy="2470.4" r="2.4"/><circle cx="1389.1" cy="2477.6" r="2.4"/><circle cx="1397.3" cy="2485.3" r="2.4"/><circle cx="1404.3" cy="2478" r="2.4"/><circle cx="1412.5" cy="2481.3" r="2.4"/><circle cx="1420" cy="2493.5" r="2.4"/><circle cx="1427.7" cy="2483" r="2.4"/><circle cx="1434.9" cy="2493.3" r="2.4"/><circle cx="1442" cy="2496.9" r="2.4"/><circle cx="1449.2" cy="2494.3" r="2.4"/><circle cx="1456.4" cy="2497.4" r="2.4"/><circle cx="1462.5" cy="2507.6" r="2.4"/><circle cx="1470.7" cy="2512.7" r="2.4"/><circle cx="1477.9" cy="2513.3" r="2.4"/><circle cx="1486.1" cy="2512.7" r="2.4"/><circle cx="1494.3" cy="2514.8" r="2.4"/><circle cx="1501.5" cy="2524" r="2.4"/><circle cx="1509.7" cy="2520.9" r="2.4"/><circle cx="1515.8" cy="2520.9" r="2.4"/><circle cx="1523" cy="2528.1" r="2.4"/><circle cx="1531.2" cy="2530.2" r="2.4"/><circle cx="1539.4" cy="2533.2" r="2.4"/><circle cx="1546.6" cy="2536.7" r="2.4"/><circle cx="1554.8" cy="2542.5" r="2.4"/><circle cx="1560.9" cy="2548.6" r="2.4"/><circle cx="1567.1" cy="2549" r="2.4"/><circle cx="1574.3" cy="2551.7" r="2.4"/><circle cx="1580.4" cy="2560.9" r="2.4"/><circle cx="1587.6" cy="2566" r="2.4"/><circle cx="1594.8" cy="2571.2" r="2.4"/><circle cx="1603" cy="2579.4" r="2.4"/><circle cx="1608.1" cy="2586.5" r="2.4"/><circle cx="1611.8" cy="2591.2" r="2.4"/></g>
<line x1="205" y1="1799.5" x2="719.7" y2="1811" stroke="#0070C0" stroke-width="3.9" stroke-dasharray="37.7 15.3" stroke-linecap="butt"/>
<line x1="296.4" y1="1772.4" x2="720.4" y2="2226.5" stroke="#0070C0" stroke-width="3.9" stroke-dasharray="37.7 15.3" stroke-linecap="butt"/>
<line x1="634.3" y1="2224" x2="1041.9" y2="2245.6" stroke="#0070C0" stroke-width="3.9" stroke-dasharray="37.7 15.3" stroke-linecap="butt"/>
<path d="M739.5 1808.8 C752 1809 764.7 1809.5 764.7 1816 V2014 Q764.7 2019.5 770 2019.5 H792 M770 2019.5 Q764.7 2019.5 764.7 2025 V2222 Q764.7 2228 756 2228.5 L739.7 2229.5" fill="none" stroke="#00B0F0" stroke-width="3.7"/>
<line x1="915.8" y1="2302.6" x2="1612" y2="2306.3" stroke="#FF0000" stroke-width="3.9" stroke-dasharray="37.7 15.3" stroke-linecap="butt"/>
<line x1="988.2" y1="2277.4" x2="1692.1" y2="2611.3" stroke="#FF0000" stroke-width="3.9" stroke-dasharray="37.7 15.3" stroke-linecap="butt"/>
<line x1="1513.8" y1="2597.2" x2="1902" y2="2598" stroke="#FF0000" stroke-width="3.9" stroke-dasharray="37.7 15.3" stroke-dashoffset="18.8" stroke-linecap="butt"/>
<path d="M1612 2306.2 C1626 2306.5 1637.6 2307 1637.6 2313 V2443.5 Q1637.6 2449 1643 2449 H1664.8 M1643 2449 Q1637.6 2449 1637.6 2454.5 V2586 Q1637.6 2591 1628 2591.6 L1614 2592.5" fill="none" stroke="#FF0000" stroke-width="3.4"/>
<line x1="1729.4" y1="2201.4" x2="1674.5" y2="2357" stroke="#000" stroke-width="2.5" stroke-linecap="butt"/>
<path d="M1670.9 2367.2 L1669.7 2346.6 L1675.6 2354 L1684.8 2351.9 Z" fill="#000"/>
<text x="93.6" y="1350.5" font-size="67">-150</text>
<text x="333.6" y="1350.5" font-size="67">-100</text>
<text x="858.2" y="1350.5" font-size="67">0</text>
<text x="1081.5" y="1350.5" font-size="67">50</text>
<text x="1544.8" y="1350.5" font-size="67">150</text>
<text x="1784.8" y="1350.5" font-size="67">200</text>
<text x="17.7" y="356.2" font-size="67">0.2</text>
<text x="16.2" y="815.3" font-size="67">0.1</text>
<text x="67.1" y="1274.5" font-size="67">0</text>
<text x="1750.1" y="1422.5" font-size="67.5">T,</text>
<text x="1818.3" y="1413.6" font-size="57.4">°</text>
<text x="1842.7" y="1423.3" font-size="67.5">C</text>
<text x="1742.1" y="103.6" font-size="83">(a)</text>
<text x="114" y="73.4" font-size="69" style="font-family:&quot;Noto Serif CJK SC&quot;,&quot;Liberation Serif&quot;,serif">λ</text>
<text x="553.3" y="269" font-size="85.5" font-style="italic">II</text>
<text x="446.3" y="595.5" font-size="85" font-style="italic">I</text>
<text x="783.8" y="931" font-size="85.5" font-style="italic">III</text>
<text x="1381.3" y="353" font-size="84" font-style="italic">IV</text>
<text x="1602.6" y="627" font-size="84" font-style="italic">V</text>
<text x="258.4" y="276" font-size="69.5" style="font-family:&quot;Noto Serif CJK SC&quot;,&quot;Liberation Serif&quot;,serif">λ</text>
<text x="298.5" y="295.5" font-size="55">II max</text>
<text x="1026.8" y="414.3" font-size="68.4" style="font-family:&quot;Noto Serif CJK SC&quot;,&quot;Liberation Serif&quot;,serif">λ</text>
<text x="1065.3" y="434.8" font-size="56">IV max</text>
<text x="217.6" y="763.9" font-size="82.5">ΔT</text>
<text x="320.3" y="782.7" font-size="46" style="font-family:&quot;Noto Serif CJK SC&quot;,&quot;Liberation Serif&quot;,serif">λ</text>
<text x="348.1" y="783.4" font-size="54">/2</text>
<text x="1329.4" y="770.5" font-size="82.5">ΔT</text>
<text x="1432.1" y="790.1" font-size="46.5" style="font-family:&quot;Noto Serif CJK SC&quot;,&quot;Liberation Serif&quot;,serif">λ</text>
<text x="1461.1" y="790" font-size="54">/2</text>
<text x="501.5" y="1348.7" font-size="83">T</text>
<text x="552.3" y="1367" font-size="54.5">II max</text>
<text x="1259.5" y="1345" font-size="83">T</text>
<text x="1310.7" y="1375" font-size="54.5">IV</text>
<text x="1378.5" y="1365" font-size="54.5">max</text>
<text x="126.5" y="2767.8" font-size="65.5">0</text>
<text x="128" y="2644.4" font-size="65.5">1</text>
<text x="127.7" y="2521" font-size="65.5">2</text>
<text x="126.6" y="2397.6" font-size="65.5">3</text>
<text x="125.1" y="2274.2" font-size="65.5">4</text>
<text x="126.6" y="2150.8" font-size="65.5">5</text>
<text x="126" y="2027.4" font-size="65.5">6</text>
<text x="125.9" y="1904" font-size="65.5">7</text>
<text x="126.5" y="1780.6" font-size="65.5">8</text>
<text x="126.7" y="1657.2" font-size="65.5">9</text>
<text x="153" y="2844" font-size="65.5">-150</text>
<text x="380.5" y="2844" font-size="65.5">-100</text>
<text x="624.3" y="2844" font-size="65.5">-50</text>
<text x="879.1" y="2844" font-size="65.5">0</text>
<text x="1090.2" y="2844" font-size="65.5">50</text>
<text x="1301.4" y="2844" font-size="65.5">100</text>
<text x="1528.9" y="2844" font-size="65.5">150</text>
<text x="1756.4" y="2844" font-size="65.5">200</text>
<text x="1758.3" y="2927.6" font-size="66.8">T,</text>
<text x="1824.3" y="2919.2" font-size="57.7">°</text>
<text x="1847.3" y="2928.3" font-size="67.5">C</text>
<text x="43.8" y="1568.6" font-size="65">ν, Hz</text>
<text x="1735.9" y="1652" font-size="78">(b)</text>
<text x="816.6" y="2021.5" font-size="76.5">ΔG</text>
<text x="919.4" y="2040.5" font-size="51.5">(I+II)</text>
<text x="1033" y="2021.5" font-size="76.5">=</text>
<text x="1075.6" y="2021.5" font-size="76.5">0,71</text>
<text x="1435.9" y="2209.3" font-size="76.5">ΔG</text>
<text x="1538.7" y="2228.3" font-size="51.5">(IV+V)</text>
<text x="1691.3" y="2209.3" font-size="76.5">=</text>
<text x="1734.3" y="2209.3" font-size="76.5">0,88</text>
</svg>
</body></html>
